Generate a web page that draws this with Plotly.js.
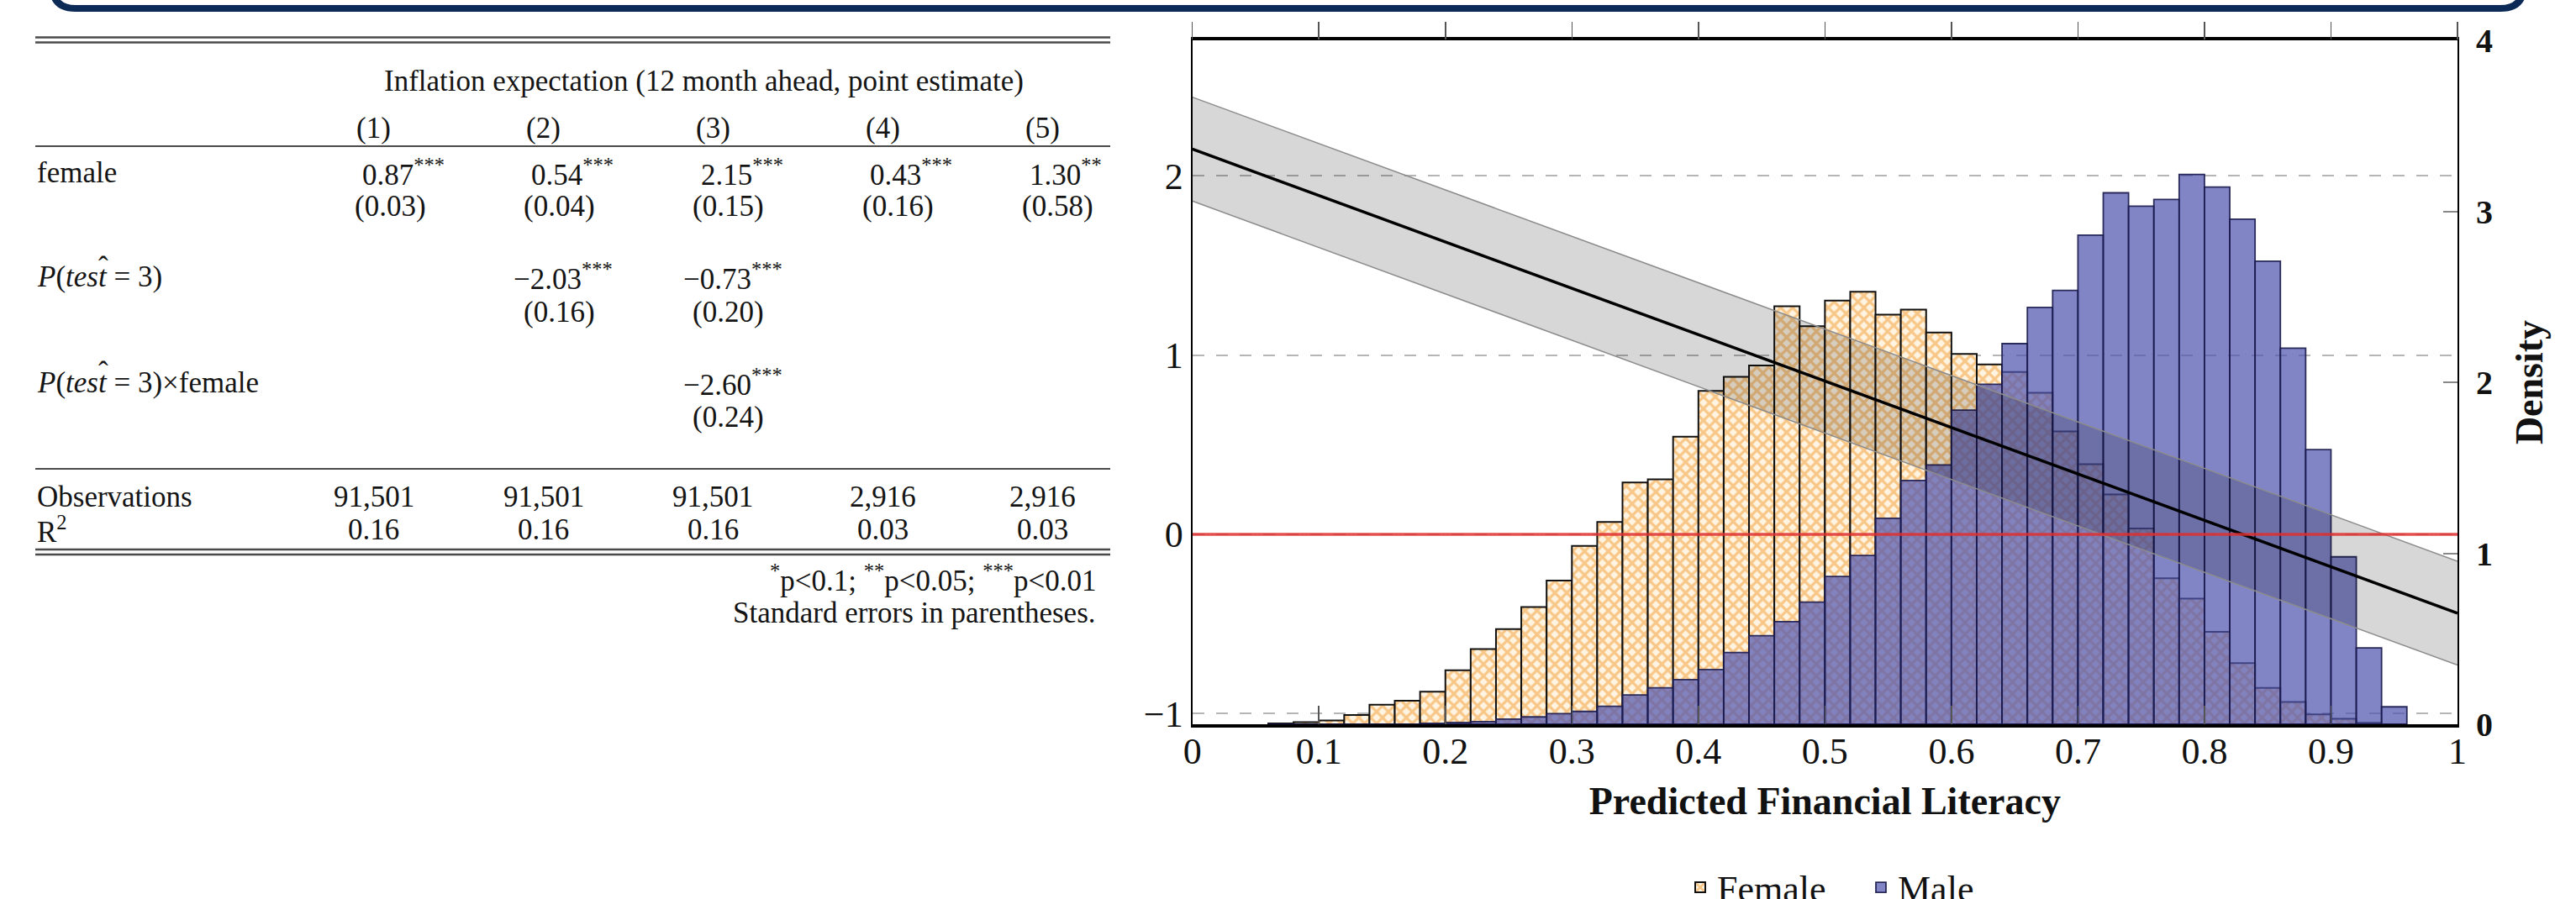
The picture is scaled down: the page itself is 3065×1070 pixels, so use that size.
<!DOCTYPE html>
<html>
<head>
<meta charset="utf-8">
<script src="https://cdn.plot.ly/plotly-3.0.1.min.js"></script>
<style>html,body{margin:0;padding:0;background:#fff;}#chart{width:3065px;height:1070px;}</style>
</head>
<body>
<div id="chart"></div>
<script>
// ---------- DATA ----------
// Regression table
const depVarTitle = 'Inflation expectation (12 month ahead, point estimate)';
const colHeads = ['(1)', '(2)', '(3)', '(4)', '(5)'];
const rowLabels = ['female', '<i>P</i>(<i>test</i> = 3)', '<i>P</i>(<i>test</i> = 3)×female'];
const hatMark = 'ˆ';
const femaleCoef = ['0.87', '0.54', '2.15', '0.43', '1.30'];
const femaleStars = ['***', '***', '***', '***', '**'];
const femaleSE = ['(0.03)', '(0.04)', '(0.15)', '(0.16)', '(0.58)'];
const ptestCoef = [null, '−2.03', '−0.73', null, null];
const ptestStars = [null, '***', '***', null, null];
const ptestSE = [null, '(0.16)', '(0.20)', null, null];
const interCoef = [null, null, '−2.60', null, null];
const interStars = [null, null, '***', null, null];
const interSE = [null, null, '(0.24)', null, null];
const observations = ['91,501', '91,501', '91,501', '2,916', '2,916'];
const rSquared = ['0.16', '0.16', '0.16', '0.03', '0.03'];
const footnotes = ['<sup>*</sup>p&lt;0.1; <sup>**</sup>p&lt;0.05; <sup>***</sup>p&lt;0.01', 'Standard errors in parentheses.'];

// Histogram (density, bin width 0.02)
const binCenters = [0.07,0.09,0.11,0.13,0.15,0.17,0.19,0.21,0.23,0.25,0.27,0.29,0.31,0.33,0.35,0.37,0.39,0.41,0.43,0.45,0.47,0.49,0.51,0.53,0.55,0.57,0.59,0.61,0.63,0.65,0.67,0.69,0.71,0.73,0.75,0.77,0.79,0.81,0.83,0.85,0.87,0.89,0.91,0.93,0.95];
const femaleDensity = [0.005,0.012,0.022,0.054,0.114,0.137,0.19,0.316,0.44,0.557,0.686,0.84,1.043,1.183,1.414,1.432,1.682,1.95,2.032,2.098,2.445,2.328,2.478,2.53,2.396,2.425,2.291,2.166,2.105,2.06,1.939,1.712,1.521,1.344,1.145,0.854,0.735,0.54,0.357,0.212,0.13,0.058,0.032,0.008,0];
const maleDensity = [0,0,0,0,0,0,0.005,0.01,0.015,0.03,0.043,0.062,0.075,0.105,0.171,0.213,0.261,0.32,0.42,0.518,0.6,0.714,0.864,0.987,1.205,1.426,1.517,1.837,1.988,2.226,2.438,2.537,2.861,3.108,3.03,3.069,3.216,3.142,2.954,2.708,2.2,1.606,0.979,0.447,0.102];

// Fitted line and confidence band (left axis)
const fitX = [0, 1];
const fitY = [2.15, -0.44];
const bandLower = [1.86, -0.73];
const bandUpper = [2.44, -0.15];

// Axis ticks
const xTickVals = [0,0.1,0.2,0.3,0.4,0.5,0.6,0.7,0.8,0.9,1];
const xTickText = ['0','0.1','0.2','0.3','0.4','0.5','0.6','0.7','0.8','0.9','1'];
const leftTickVals = [-1, 0, 1, 2];
const leftTickText = ['−1', '0', '1', '2'];
const densTickVals = [0, 1, 2, 3, 4];
const densTickText = ['0', '1', '2', '3', '4'];

// ---------- LAYOUT HELPERS ----------
const W = 3065, H = 1070;
const px = x => x / W;
const py = y => 1 - y / H;
const SERIF = 'Liberation Serif';
const TFONT = {family: SERIF, size: 35, color: '#141414'};

const annotations = [];
function txt(text, x, y, anchor, font) {
  annotations.push({text: text, x: px(x), y: py(y), xref: 'paper', yref: 'paper',
    xanchor: anchor || 'left', yanchor: 'middle', showarrow: false, font: font || TFONT});
}

// table geometry
const colCenters = [444.6, 646.5, 848, 1050, 1240];
const coefLeft = [428.6, 630.4, 832.2, 1033, 1223];
const seLeft = [419.6, 621.4, 822.3, 1024, 1214.3];
const tableLeft = 42, tableRight = 1321;

txt(depVarTitle, 837, 97, 'center');
colHeads.forEach((t, i) => txt(t, colCenters[i], 152, 'center'));
txt(rowLabels[0], tableLeft, 206, 'left');
txt(rowLabels[1], tableLeft, 330, 'left');
txt(rowLabels[2], tableLeft, 455, 'left');
txt(hatMark, 123, 318, 'center');
txt(hatMark, 123, 443, 'center');
function coefRow(coefs, stars, ses, yc, ys) {
  coefs.forEach((c, i) => {
    if (c === null) return;
    const neg = c.charAt(0) === '−';
    txt(c + '<sup>' + stars[i] + '</sup>', coefLeft[i] - (neg ? 21 : 0), yc, 'left');
  });
  ses.forEach((s, i) => { if (s !== null) txt(s, seLeft[i], ys, 'left'); });
}
coefRow(femaleCoef, femaleStars, femaleSE, 206, 245.5);
coefRow(ptestCoef, ptestStars, ptestSE, 330, 372);
coefRow(interCoef, interStars, interSE, 455, 496);
txt('Observations', tableLeft, 591, 'left');
txt('R<sup>2</sup>', tableLeft, 630, 'left');
observations.forEach((t, i) => txt(t, colCenters[i], 591, 'center'));
rSquared.forEach((t, i) => txt(t, colCenters[i], 630, 'center'));
txt(footnotes[0], 1306, 688, 'right');
txt(footnotes[1], 1306, 729, 'right');

const shapes = [];
function rule(y, w) {
  shapes.push({type: 'line', xref: 'paper', yref: 'paper', x0: px(tableLeft), x1: px(tableRight),
    y0: py(y), y1: py(y), line: {color: '#4a4a4a', width: w}});
}
rule(44.6, 2.5); rule(50.6, 2.5); rule(174, 1.8); rule(558, 1.8); rule(654, 2.5); rule(660, 2.5);

// navy frame edge at top
const fl = 62, fr = 3003, fb = 10, rr = 28;
shapes.push({type: 'path', xref: 'paper', yref: 'paper', layer: 'above',
  path: `M ${px(fl)},${py(-80)} L ${px(fl)},${py(fb - rr)} Q ${px(fl)},${py(fb)} ${px(fl + rr)},${py(fb)} L ${px(fr - rr)},${py(fb)} Q ${px(fr)},${py(fb)} ${px(fr)},${py(fb - rr)} L ${px(fr)},${py(-80)}`,
  line: {color: '#0b2a55', width: 8}});

// red zero reference line on the left axis
shapes.push({type: 'line', xref: 'x', yref: 'y2', x0: 0, x1: 1, y0: 0, y1: 0, layer: 'above',
  line: {color: 'rgba(222,48,48,0.85)', width: 3.5}});

// ---------- TRACES ----------
const traces = [
  {type: 'bar', name: 'Female', x: binCenters, y: femaleDensity, width: 0.02, xaxis: 'x', yaxis: 'y',
   marker: {color: '#fff4e2', line: {color: '#111', width: 2},
     pattern: {shape: 'x', fgcolor: '#f29a2e', size: 10, solidity: 0.55, fillmode: 'overlay'}},
   hoverinfo: 'skip'},
  {type: 'bar', name: 'Male', x: binCenters, y: maleDensity, width: 0.02, xaxis: 'x', yaxis: 'y',
   marker: {color: 'rgba(80,86,176,0.72)', line: {color: 'rgba(25,25,75,0.9)', width: 1.8}},
   hoverinfo: 'skip'},
  {type: 'scatter', mode: 'lines', x: fitX, y: bandLower, xaxis: 'x2', yaxis: 'y2',
   line: {color: '#8c8c8c', width: 1.5}, showlegend: false, hoverinfo: 'skip'},
  {type: 'scatter', mode: 'lines', x: fitX, y: bandUpper, xaxis: 'x2', yaxis: 'y2', fill: 'tonexty',
   fillcolor: 'rgba(0,0,0,0.155)', line: {color: '#8c8c8c', width: 1.5}, showlegend: false, hoverinfo: 'skip'},
  {type: 'scatter', mode: 'lines', x: fitX, y: fitY, xaxis: 'x2', yaxis: 'y2',
   line: {color: '#000', width: 3.5}, showlegend: false, hoverinfo: 'skip'}
];

const domX = [px(1418.7), px(2924)];
const domY = [py(862), py(48)];

const layout = {
  width: W, height: H,
  margin: {l: 0, r: 0, t: 0, b: 0, pad: 0, autoexpand: false},
  paper_bgcolor: '#fff', plot_bgcolor: 'rgba(0,0,0,0)',
  barmode: 'overlay', bargap: 0,
  font: {family: SERIF, color: '#111'},
  showlegend: true,
  legend: {orientation: 'h', x: px(2003), y: py(1021), xanchor: 'left', yanchor: 'top',
    font: {family: SERIF, size: 44, color: '#111'}, bgcolor: 'rgba(0,0,0,0)', itemwidth: 30,
    entrywidth: 170, entrywidthmode: 'pixels', traceorder: 'normal'},
  xaxis: {domain: domX, range: [0, 1], anchor: 'y', tickvals: xTickVals, ticktext: xTickText,
    ticks: 'inside', ticklen: 22, tickwidth: 1.5, tickcolor: '#555',
    showline: true, linecolor: '#000', linewidth: 4, mirror: true,
    showgrid: false, zeroline: false, tickfont: {family: SERIF, size: 44, color: '#111'}, ticklabelstandoff: -10,
    title: {text: '<b>Predicted Financial Literacy</b>', font: {family: SERIF, size: 46, color: '#111'}, standoff: 20}},
  xaxis2: {overlaying: 'x', side: 'top', range: [0, 1], anchor: 'y2', tickvals: xTickVals,
    ticks: 'outside', ticklen: 21, tickwidth: 1.5, tickcolor: '#555', showticklabels: false,
    showline: false, showgrid: false, zeroline: false},
  yaxis: {domain: domY, range: [0, 4], side: 'right', anchor: 'x', tickvals: densTickVals, ticktext: densTickText,
    ticks: 'inside', ticklen: 17, tickwidth: 2, tickcolor: '#888',
    showline: true, linecolor: '#000', linewidth: 2, mirror: true, showgrid: false, zeroline: false,
    tickfont: {family: SERIF, size: 40, color: '#111', weight: 'bold'}, ticklabelstandoff: 12,
    title: {text: '<b>Density</b>', font: {family: SERIF, size: 46, color: '#111'}, standoff: 28}},
  yaxis2: {overlaying: 'y', side: 'left', anchor: 'x', range: [-1.06, 2.757], tickvals: leftTickVals, ticktext: leftTickText,
    ticks: '', showline: false, zeroline: false,
    showgrid: true, gridcolor: '#b5b5b5', gridwidth: 2, griddash: '14px,14px',
    tickfont: {family: SERIF, size: 44, color: '#111'}, ticklabelstandoff: 10},
  annotations: annotations,
  shapes: shapes
};

Plotly.newPlot('chart', traces, layout, {displayModeBar: false, staticPlot: true});
</script>
</body>
</html>
